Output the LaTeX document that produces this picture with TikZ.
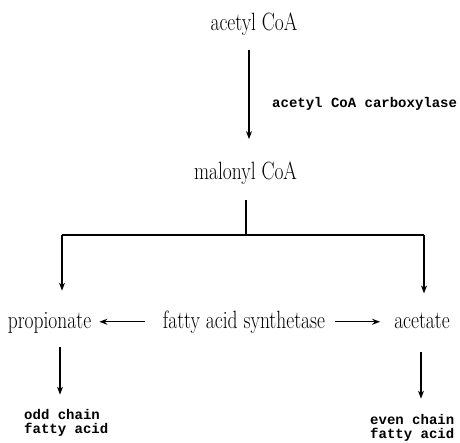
\documentclass[tikz,border=0pt]{standalone}
\usepackage{fontspec}
\setmonofont{Liberation Mono}
\usepackage{graphicx}
\usetikzlibrary{arrows.meta}
\newcommand{\narrowtxt}[1]{\scalebox{0.78}[1]{#1}}
\begin{document}
\begin{tikzpicture}[x=1pt,y=1pt,
chem/.style={font=\fontsize{25}{28}\selectfont,inner sep=2pt,anchor=base},
enz/.style={font=\ttfamily\bfseries\fontsize{14}{14}\selectfont,inner sep=2pt,align=left,anchor=base west},
flow/.style={-{Stealth[length=8pt,width=6pt]},line width=1.3pt},
link/.style={line width=1.3pt}
]
\useasboundingbox (0,0) rectangle (460,-442);
% compounds
\node[chem] (acoa) at (254,-30) {\narrowtxt{acetyl CoA}};
\node[chem] (mcoa) at (245.5,-179) {\narrowtxt{malonyl CoA}};
\node[chem] (prop) at (49.5,-328) {\narrowtxt{propionate}};
\node[chem] (fas) at (244,-328) {\narrowtxt{fatty acid synthetase}};
\node[chem] (acet) at (422,-328) {\narrowtxt{acetate}};
% enzyme and products
\node[enz] (carb) at (270,-107) {acetyl CoA carboxylase};
\node[enz] (odd) at (22,-433) {odd chain\\fatty acid};
\node[enz] (even) at (368,-438) {even chain\\fatty acid};
% branch points
\coordinate (fork) at (246,-235);
\coordinate (forkl) at (62,-235);
\coordinate (forkr) at (424,-235);
% connectors
\draw[flow,shorten <=13pt,shorten >=20pt] ([xshift=-5pt]acoa.south) -- ([xshift=-5pt]acoa.south |- mcoa.north);
\draw[link,shorten <=14pt] (mcoa.south -| fork) -- (fork);
\draw[link] (forkl) -- (forkr);
\draw[flow,shorten >=19pt] (forkl) -- (forkl |- prop.north);
\draw[flow,shorten >=17pt] (forkr) -- (forkr |- acet.north);
\draw[flow,shorten <=16pt,shorten >=6pt] (fas.west) -- (fas.west -| prop.east);
\draw[flow,shorten <=8pt,shorten >=12pt] (fas.east) -- (fas.east -| acet.west);
\draw[flow,shorten <=12pt,shorten >=12pt] ([xshift=-2pt]prop.south -| forkl) -- ([xshift=-2pt]odd.north -| forkl);
\draw[flow,shorten <=22pt,shorten >=13pt] ([xshift=-3pt]acet.south -| forkr) -- ([xshift=-3pt]even.north -| forkr);
\end{tikzpicture}
\end{document}
